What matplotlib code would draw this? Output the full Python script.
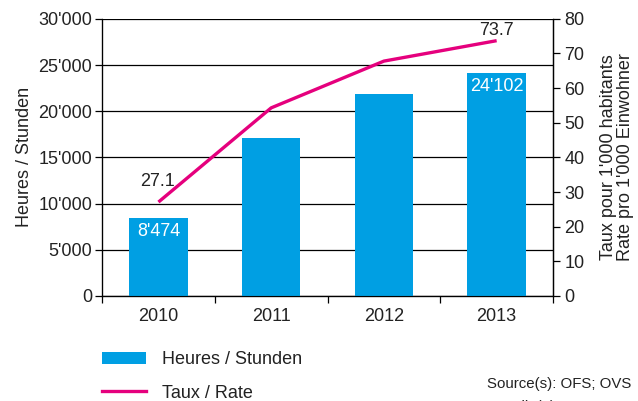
import matplotlib
matplotlib.use("Agg")
import matplotlib.pyplot as plt
from matplotlib.ticker import FuncFormatter, FixedLocator
from matplotlib.patches import Patch
from matplotlib.lines import Line2D

plt.rcParams['font.family'] = ['Liberation Sans', 'DejaVu Sans']

years = ['2010', '2011', '2012', '2013']
heures = [8474, 17100, 21900, 24102]
taux = [27.1, 54.3, 67.8, 73.7]

BLUE = '#009FE3'
PINK = '#E5007D'
TXT = '#222222'
FS = 13

def apos(v, pos=None):
    return "{:,.0f}".format(v).replace(",", "'")

fig = plt.figure(figsize=(6.38, 4.01), dpi=100)
ax = fig.add_axes([0.16, 0.262, 0.7068, 0.691])
x = [i + 0.5 for i in range(len(years))]

ax.bar(x, heures, width=0.52, color=BLUE, zorder=3)
ax.set_xlim(0, 4)
ax.set_ylim(0, 30000)
ax.set_yticks(range(0, 30001, 5000))
ax.yaxis.set_major_formatter(FuncFormatter(apos))
ax.grid(axis='y', color='black', linewidth=0.9, zorder=0)
ax.set_axisbelow(True)

# ticks between categories, labels centred under bars
ax.xaxis.set_major_locator(FixedLocator([0, 1, 2, 3, 4]))
ax.xaxis.set_minor_locator(FixedLocator(x))
ax.set_xticklabels([])
ax.set_xticklabels(years, minor=True)
ax.tick_params(axis='x', which='major', length=5, width=0.9, color='black')
ax.tick_params(axis='x', which='minor', length=0, pad=8.5, labelsize=FS, labelcolor=TXT)
ax.tick_params(axis='y', length=5, width=0.9, labelsize=FS, labelcolor=TXT, pad=2)
ax.set_ylabel('Heures / Stunden', fontsize=FS, color=TXT, labelpad=4)
ax.spines['top'].set_visible(False)
for s in ['left', 'bottom', 'right']:
    ax.spines[s].set_linewidth(0.9)

# value labels inside first and last bar
for i in (0, 3):
    ax.annotate(apos(heures[i]), (x[i], heures[i]), xytext=(0, -3.5),
                textcoords='offset points', ha='center', va='top',
                color='white', fontsize=FS)

ax2 = ax.twinx()
ax2.plot(x, taux, color=PINK, linewidth=2.4, solid_capstyle='butt', zorder=5)
ax2.set_ylim(0, 80)
ax2.set_yticks(range(0, 81, 10))
ax2.tick_params(axis='y', length=5, width=0.9, labelsize=FS, labelcolor=TXT, pad=3)
ax2.set_ylabel("Taux pour 1'000 habitants\nRate pro 1'000 Einwohner",
               fontsize=FS, color=TXT, labelpad=11, linespacing=1.0)
ax2.spines['top'].set_visible(False)
ax2.spines['right'].set_linewidth(0.9)

ax2.annotate('{:.1f}'.format(taux[0]), (x[0], taux[0]), xytext=(-1, 9),
             textcoords='offset points', ha='center', va='bottom',
             color=TXT, fontsize=FS)
ax2.annotate('{:.1f}'.format(taux[3]), (x[3], taux[3]), xytext=(0, 1),
             textcoords='offset points', ha='center', va='bottom',
             color=TXT, fontsize=FS)

handles = [Patch(facecolor=BLUE, edgecolor='none'),
           Line2D([0], [0], color=PINK, linewidth=2.4)]
fig.legend(handles, ['Heures / Stunden', 'Taux / Rate'], loc='upper left',
           bbox_to_anchor=(0.16, 0.124), frameon=False, fontsize=FS,
           labelcolor=TXT, handlelength=2.44, handleheight=0.68,
           handletextpad=0.89, labelspacing=0.9, borderaxespad=0,
           borderpad=0)

fig.text(0.99, 0.042, 'Source(s): OFS; OVS', ha='right', va='center',
         fontsize=10.8, color=TXT)
fig.text(0.99, -0.014, 'Quelle(n): BFS; UVS', ha='right', va='center',
         fontsize=10.8, color=TXT)

fig.savefig('out.png', dpi=100)
